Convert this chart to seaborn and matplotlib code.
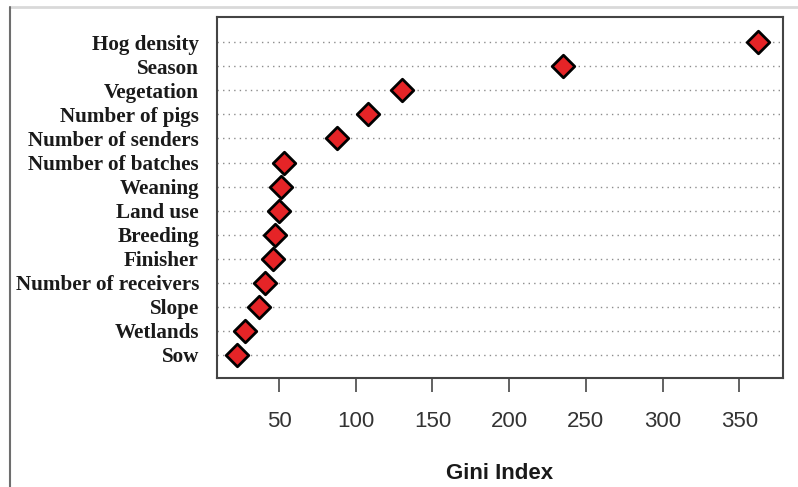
import matplotlib
matplotlib.use('Agg')
import matplotlib.pyplot as plt
from matplotlib.lines import Line2D
import seaborn as sns
import pandas as pd

# variable importance (mean decrease Gini), top to bottom
variables = ['Hog density', 'Season', 'Vegetation', 'Number of pigs',
             'Number of senders', 'Number of batches', 'Weaning', 'Land use',
             'Breeding', 'Finisher', 'Number of receivers', 'Slope',
             'Wetlands', 'Sow']
gini = [362.5, 235.3, 130.0, 107.8, 88.0, 53.0, 51.3, 49.8, 47.4, 45.9,
        40.9, 37.2, 27.8, 22.8]
x_ticks = [50, 100, 150, 200, 250, 300, 350]

sns.set_style('white')
plt.rcParams['font.family'] = ['Liberation Sans', 'DejaVu Sans']

df = pd.DataFrame({'variable': variables, 'gini': gini})

fig = plt.figure(figsize=(7.98, 4.87), dpi=100)
ax = fig.add_axes([0.2719, 0.2238, 0.7093, 0.7413])

for i in range(len(variables)):
    ax.axhline(i, color='#8c8c8c', linestyle=(0, (1, 3)), linewidth=1.0, zorder=1)

sns.stripplot(data=df, x='gini', y='variable', order=variables, orient='h',
              jitter=False, marker='D', size=11.5, color='#e52427',
              edgecolor='black', linewidth=2.0, ax=ax, zorder=3)

ax.set_xlim(9.6, 378.5)
ax.set_ylim(13.96, -1.05)
ax.set_xticks(x_ticks)
ax.set_xticklabels([str(t) for t in x_ticks], fontsize=16, color='#333333',
                   family='Liberation Sans')
ax.set_yticks(range(len(variables)))
ax.set_yticklabels(variables, family='Liberation Serif', fontweight='bold',
                   fontsize=15.2, color='#1a1a1a')
ax.tick_params(axis='x', bottom=True, direction='out', length=10, width=1.3,
               color='#555555', pad=14)
ax.tick_params(axis='y', left=False, length=0, pad=13)
ax.set_xlabel('Gini Index', fontsize=16, fontweight='bold', labelpad=22,
              color='#1a1a1a')
ax.set_ylabel('')

for sp in ax.spines.values():
    sp.set_visible(True)
    sp.set_color('#444444')
    sp.set_linewidth(1.5)

# outer frame of the original figure
fig.add_artist(Line2D([0.0125, 1.0], [0.9856, 0.9856], transform=fig.transFigure,
                      color='#d9d9d9', linewidth=2))
fig.add_artist(Line2D([0.0125, 0.0125], [0.0, 0.9856], transform=fig.transFigure,
                      color='#6e6e6e', linewidth=1.5))

fig.savefig('out.png', dpi=100, facecolor='white')
